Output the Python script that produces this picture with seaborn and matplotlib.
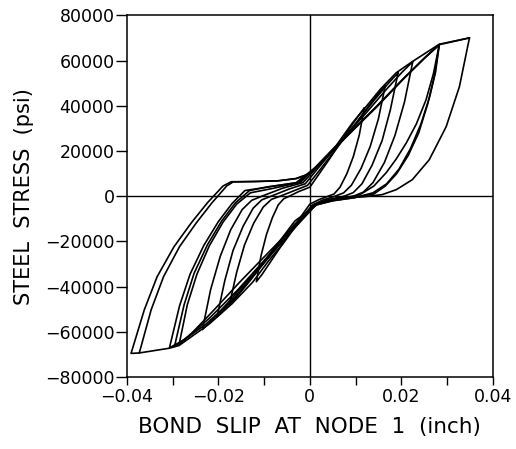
import matplotlib
matplotlib.use("Agg")
import matplotlib.pyplot as plt
from matplotlib.ticker import FixedLocator
import seaborn as sns
import pandas as pd

sns.set_theme(style="ticks")
plt.rcParams['font.family'] = ['DejaVu Sans']

# hysteresis cycles: bond slip (inch) and steel stress (psi)
cycle1_x = [0.0119, 0.0108, 0.0095, 0.0081, 0.0066, 0.0053, 0.0040, 0.0020, 0.0000,
            -0.0018, -0.0041, -0.0064, -0.0088, -0.0105, -0.0117,
            -0.0107, -0.0095, -0.0082, -0.0069, -0.0057, -0.0045, -0.0025, 0.0000,
            0.0018, 0.0042, 0.0065, 0.0089, 0.0107, 0.0119]
cycle1_y = [39000, 27000, 17500, 10000, 4000, 1000, 0, -1500, -3500,
            -8600, -15500, -22400, -29600, -34700, -37800,
            -26500, -17000, -9500, -3800, -1100, 0, 2000, 4000,
            9200, 16200, 23200, 30600, 35800, 39000]

cycle2_x = [0.0165, 0.0150, 0.0132, 0.0112, 0.0091, 0.0074, 0.0055, 0.0027, 0.0005,
            -0.0022, -0.0058, -0.0095, -0.0131, -0.0158, -0.0176,
            -0.0160, -0.0143, -0.0123, -0.0102, -0.0084, -0.0065, -0.0030, -0.0005,
            0.0021, 0.0055, 0.0089, 0.0123, 0.0148, 0.0165]
cycle2_y = [49000, 34300, 22000, 12300, 4900, 1500, 0, -1800, -4000,
            -10600, -19400, -28200, -37400, -44000, -48000,
            -33600, -21600, -12000, -4800, -1400, 0, 2800, 4800,
            11400, 20300, 29100, 38400, 45000, 49000]

cycle3_x = [0.0193, 0.0176, 0.0158, 0.0136, 0.0114, 0.0095, 0.0075, 0.0040, 0.0010,
            -0.0022, -0.0065, -0.0107, -0.0150, -0.0182, -0.0203,
            -0.0186, -0.0168, -0.0146, -0.0124, -0.0105, -0.0085, -0.0045, -0.0010,
            0.0020, 0.0061, 0.0102, 0.0142, 0.0173, 0.0193]
cycle3_y = [54600, 38200, 24600, 13700, 5500, 1600, 0, -1500, -3800,
            -11200, -21100, -31000, -41400, -48900, -53300,
            -37300, -24000, -13300, -5300, -1600, 0, 3200, 5500,
            12900, 22700, 32500, 42800, 50200, 54600]

cycle4_x = [0.0225, 0.0207, 0.0186, 0.0163, 0.0138, 0.0117, 0.0095, 0.0055, 0.0015,
            -0.0023, -0.0073, -0.0123, -0.0173, -0.0210, -0.0235,
            -0.0217, -0.0196, -0.0173, -0.0148, -0.0127, -0.0105, -0.0060, -0.0015,
            0.0021, 0.0069, 0.0117, 0.0165, 0.0201, 0.0225]
cycle4_y = [59500, 41700, 26800, 14900, 6000, 1800, 0, -1200, -3500,
            -11800, -22900, -34000, -45700, -54000, -59000,
            -41300, -26600, -14800, -5900, -1800, 0, 3500, 6000,
            14000, 24700, 35400, 46700, 54700, 59500]

cycle5_x = [0.0283, 0.0270, 0.0254, 0.0233, 0.0211, 0.0189, 0.0167, 0.0140, 0.0108,
            0.0070, 0.0035, 0.0010,
            -0.0034, -0.0094, -0.0153, -0.0212, -0.0256, -0.0286,
            -0.0268, -0.0247, -0.0220, -0.0190, -0.0160, -0.0130, -0.0080, -0.0020,
            0.0025, 0.0086, 0.0147, 0.0207, 0.0253, 0.0283]
cycle5_y = [67000, 54000, 42600, 32000, 23600, 16500, 10400, 4500, 500,
            -1000, -2300, -4000,
            -13200, -25600, -37900, -50800, -60100, -65600,
            -48000, -34500, -22000, -11500, -3500, 1500, 3500, 6200,
            15300, 27500, 39600, 52400, 61500, 67000]

cycle6_x = [0.0283, 0.0275, 0.0262, 0.0243, 0.0220, 0.0195, 0.0168, 0.0138,
            0.0100, 0.0050, 0.0012,
            -0.0034, -0.0096, -0.0158, -0.0220, -0.0266, -0.0296,
            -0.0275, -0.0253, -0.0224, -0.0193, -0.0163, -0.0132, -0.0090, -0.0025,
            0.0020, 0.0083, 0.0145, 0.0205, 0.0252, 0.0283]
cycle6_y = [67000, 55000, 44000, 32000, 21000, 12000, 5500, 1500,
            -500, -2000, -3900,
            -12500, -27500, -41500, -54000, -62000, -66400,
            -48000, -34000, -21500, -11000, -3000, 2500, 4200, 6000,
            14000, 27000, 39500, 52000, 61300, 67000]

cycle7_x = [0.0283, 0.0272, 0.0258, 0.0238, 0.0215, 0.0190, 0.0165, 0.0140,
            0.0090, 0.0050, 0.0015,
            -0.0033, -0.0098, -0.0162, -0.0227, -0.0275, -0.0307,
            -0.0285, -0.0262, -0.0232, -0.0200, -0.0170, -0.0142, -0.0100, -0.0030,
            0.0017, 0.0080, 0.0140, 0.0200, 0.0250, 0.0283, 0.0349]
cycle7_y = [67000, 53000, 41000, 28000, 18000, 10000, 4500, 1000,
            -900, -2000, -3800,
            -11000, -28500, -44500, -56500, -63500, -67000,
            -48500, -34500, -21800, -11200, -3200, 2500, 3800, 6000,
            13500, 26500, 38500, 51000, 61000, 67000, 70000]

cycle8_x = [0.0349, 0.0327, 0.0298, 0.0261, 0.0224, 0.0189, 0.0158, 0.0120, 0.0080, 0.0040, 0.0010,
            -0.0023, -0.0055, -0.0090, -0.0125, -0.0170, -0.0220, -0.0286, -0.0307, -0.0373,
            -0.0347, -0.0320, -0.0285, -0.0248, -0.0214, -0.0182, -0.0168,
            -0.0120, -0.0070, -0.0030, 0.0000,
            0.0020, 0.0058, 0.0093, 0.0123, 0.0155, 0.0189, 0.0224, 0.0283, 0.0349]
cycle8_y = [70000, 48400, 30700, 16100, 7300, 2900, 700, -200, -800, -1800, -3500,
            -11000, -20000, -28500, -38000, -47500, -56500, -66000, -67200, -69300,
            -50200, -35600, -22300, -11700, -2900, 4500, 6300,
            6500, 6800, 7800, 10000,
            14500, 22500, 32400, 39600, 47500, 54600, 59500, 67200, 70000]

cycle9_x = [-0.0373, -0.0391,
            -0.0362, -0.0334, -0.0297, -0.0259, -0.0224, -0.0190, -0.0172,
            -0.0120, -0.0070, -0.0030, 0.0000]
cycle9_y = [-69300, -69500,
            -50200, -35600, -22300, -11700, -2900, 4500, 6400,
            6500, 6800, 7800, 10000]

x_ticks = [-0.04, -0.02, 0, 0.02, 0.04]
x_tick_labels = ['\u22120.04', '\u22120.02', '0', '0.02', '0.04']
x_minor_ticks = [-0.03, -0.01, 0.01, 0.03]
y_ticks = [-80000, -60000, -40000, -20000, 0, 20000, 40000, 60000, 80000]
y_tick_labels = ['\u221280000', '\u221260000', '\u221240000', '\u221220000', '0',
                 '20000', '40000', '60000', '80000']

cycles = [(cycle1_x, cycle1_y), (cycle2_x, cycle2_y), (cycle3_x, cycle3_y),
          (cycle4_x, cycle4_y), (cycle5_x, cycle5_y), (cycle6_x, cycle6_y),
          (cycle7_x, cycle7_y), (cycle8_x, cycle8_y), (cycle9_x, cycle9_y)]
frames = []
for i, (xs, ys) in enumerate(cycles):
    frames.append(pd.DataFrame({'slip': xs, 'stress': ys, 'cycle': i + 1,
                                'step': range(len(xs))}))
df = pd.concat(frames, ignore_index=True)

fig = plt.figure(figsize=(5.16, 4.49), dpi=100)
ax = fig.add_axes([0.246, 0.160, 0.709, 0.806])

sns.lineplot(data=df, x='slip', y='stress', units='cycle', estimator=None,
             sort=False, color='black', linewidth=1.2, ax=ax, legend=False)

# cross hair through the origin
ax.axhline(0, color='black', linewidth=1.0, zorder=1)
ax.axvline(0, color='black', linewidth=1.0, zorder=1)

ax.set_xlim(-0.04, 0.04)
ax.set_ylim(-80000, 80000)
ax.set_xticks(x_ticks)
ax.set_xticklabels(x_tick_labels)
ax.xaxis.set_minor_locator(FixedLocator(x_minor_ticks))
ax.set_yticks(y_ticks)
ax.set_yticklabels(y_tick_labels)

ax.tick_params(axis='x', which='both', direction='out', length=6, width=1.0,
               labelsize=12.5, pad=2, colors='black')
ax.tick_params(axis='y', direction='out', length=8, width=1.0,
               labelsize=12.5, pad=1, colors='black')

for s in ax.spines.values():
    s.set_visible(True)
    s.set_linewidth(1.1)
    s.set_color('black')

ax.set_xlabel('BOND  SLIP  AT  NODE  1  (inch)', fontsize=15.5, labelpad=8, color='black')
ax.set_ylabel('STEEL  STRESS  (psi)', fontsize=15, labelpad=8, color='black')

fig.savefig('out.png', dpi=100, facecolor='white')
